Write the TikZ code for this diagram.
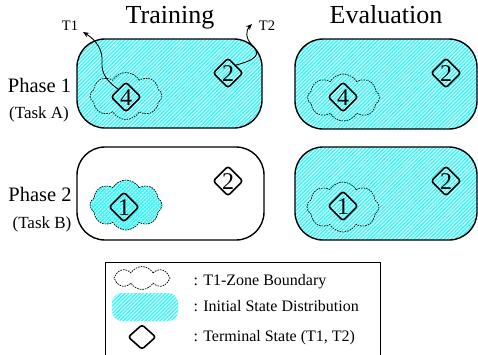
\documentclass[tikz,border=0pt]{standalone}
\usepackage{fontspec}
\setmainfont{Liberation Serif}
\usetikzlibrary{shapes.geometric,shapes.symbols,patterns.meta,arrows.meta}
\definecolor{aquafill}{RGB}{50,250,250}
\begin{document}
\begin{tikzpicture}[x=1pt,y=-1pt,
  region/.style={rectangle, draw=black, line width=1.4pt, rounded corners=28pt, inner sep=0pt},
  hatch/.style={preaction={fill=aquafill}, preaction={pattern={Lines[angle=45,distance=2.6pt,line width=0.9pt]}, pattern color=white}},
  zone/.style={cloud, cloud puffs=8, cloud puff arc=120, aspect=1.6, draw=black, line width=0.7pt,
               dash pattern=on 1.6pt off 1pt, minimum width=72pt, minimum height=47pt, inner sep=0pt},
  term/.style={diamond, draw=black, line width=1.6pt, rounded corners=2.5pt, minimum width=30pt, minimum height=30pt, inner sep=0pt},
  digit/.style={font=\fontsize{24}{24}\selectfont, inner sep=0pt},
  title/.style={font=\fontsize{26}{30}\selectfont, anchor=base},
  phase/.style={font=\fontsize{20.5}{24}\selectfont, anchor=base},
  task/.style={font=\fontsize{17}{20}\selectfont, anchor=base},
  tlab/.style={font=\fontsize{14.5}{17}\selectfont, anchor=base},
  legtext/.style={font=\fontsize{16}{19}\selectfont, anchor=base west},
  conn/.style={line width=0.9pt, -{Stealth[length=6pt,width=5pt]}}
]
\useasboundingbox (0,0) rectangle (478,354);

% titles
\node[title] (ttrain) at (170,23) {Training};
\node[title] (teval) at (386,23) {Evaluation};

% row labels
\node[phase] (p1) at (39.5,92) {Phase 1};
\node[task] (ta) at (39,118) {(Task A)};
\node[phase] (p2) at (40,201) {Phase 2};
\node[task] (tb) at (42,228) {(Task B)};

% regions
\node[region, hatch, minimum width=185pt, minimum height=89pt] (rtl) at (169.5,83.5) {};
\node[region, hatch, minimum width=182pt, minimum height=90pt] (rtr) at (386,84) {};
\node[region, minimum width=187pt, minimum height=93pt] (rbl) at (170.5,193.5) {};
\node[region, hatch, minimum width=182pt, minimum height=93pt] (rbr) at (386,193.5) {};

% zones
\node[zone] (ztl) at (126,96) {};
\node[zone] (ztr) at (343.5,97.5) {};
\node[zone, hatch, minimum height=50pt] (zbl) at (126,205) {};
\node[zone, minimum height=50pt] (zbr) at (343,207) {};

% terminal states
\node[term] (d4a) at (126,97) {};
\node[digit] (n4a) at (126,98) {4};
\node[term] (d2a) at (228,73) {};
\node[digit] (n2a) at (228,74) {2};
\node[term] (d4b) at (343,97) {};
\node[digit] (n4b) at (343,98) {4};
\node[term] (d2b) at (446,73) {};
\node[digit] (n2b) at (446,74) {2};
\node[term] (d1c) at (124,207) {};
\node[digit] (n1c) at (124,208) {1};
\node[term] (d2c) at (228,181) {};
\node[digit] (n2c) at (228,182) {2};
\node[term] (d1d) at (343,206) {};
\node[digit] (n1d) at (343,207) {1};
\node[term] (d2d) at (446,181) {};
\node[digit] (n2d) at (446,182) {2};

% T1 / T2 arrows
\node[tlab] (t1) at (70,30) {T1};
\node[tlab] (t2) at (267,30) {T2};
\coordinate (c1) at (83,32);
\coordinate (c2) at (252,24);
\draw[conn] (d4a.north west) .. controls (108,82) and (101,74) .. (102,62)
            .. controls (103,50) and (96,40) .. (c1);
\draw[conn] (d2a.north east) .. controls (255,60) and (262,55) .. (252,45)
            .. controls (245,38) and (246,30) .. (c2);

% legend
\node[draw=black, line width=0.7pt, minimum width=275pt, minimum height=98pt, inner sep=0pt] (legend) at (242.5,311) {};
\node[zone, fill=white, aspect=2.4, minimum width=56pt, minimum height=23pt] (lz) at (142,278) {};
\node[rectangle, rounded corners=10pt, hatch, minimum width=66pt, minimum height=28pt] (lh) at (145,307) {};
\node[term, minimum width=28pt, minimum height=25pt] (ld) at (142,337) {};
\node[legtext] (l1) at (190,285) {: T1-Zone Boundary};
\node[legtext] (l2) at (190,311) {: Initial State Distribution};
\node[legtext] (l3) at (190,341) {: Terminal State (T1, T2)};
\end{tikzpicture}
\end{document}
